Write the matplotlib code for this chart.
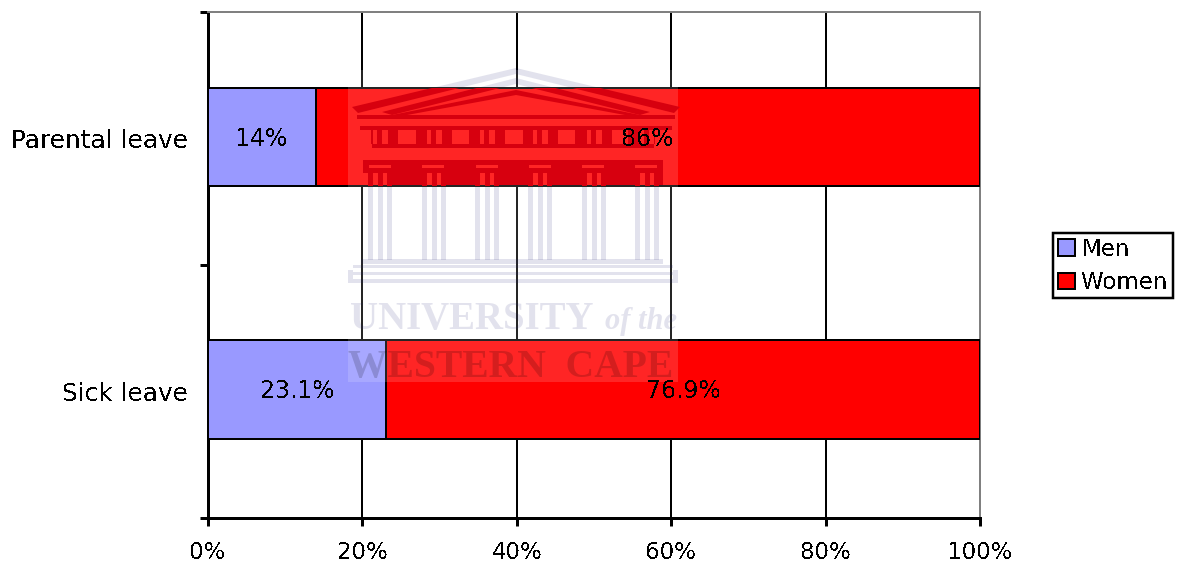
import matplotlib
matplotlib.use('Agg')
import matplotlib.pyplot as plt
from matplotlib.patches import Polygon
from matplotlib.transforms import Affine2D

categories = ['Sick leave', 'Parental leave']
men = [23.1, 14]
women = [76.9, 86]
men_labels = ['23.1%', '14%']
women_labels = ['76.9%', '86%']
x_ticks = [0, 20, 40, 60, 80, 100]
x_tick_labels = ['0%', '20%', '40%', '60%', '80%', '100%']

W, H = 1186, 564
px = 0.72  # one pixel in points at dpi 100

plt.rcParams['font.family'] = 'DejaVu Sans'
plt.rcParams['text.antialiased'] = False
fig = plt.figure(figsize=(W / 100, H / 100), dpi=100)
ax = fig.add_axes([208 / W, 1 - 518 / H, (980 - 208) / W, (518 - 12) / H])

bar_pos = [0.007, 1.006]
men_bars = ax.barh(bar_pos, men, height=0.39, color='#9999ff', edgecolor='black',
                   linewidth=2 * px, zorder=3, label='Men')
women_bars = ax.barh(bar_pos, women, left=men, height=0.39, color='#ff0000', edgecolor='black',
                     linewidth=2 * px, zorder=3, label='Women')

for i in range(len(categories)):
    ax.text(men[i] / 2, i, men_labels[i], ha='center', va='center', fontsize=17, zorder=6)
    ax.text(men[i] + women[i] / 2, i, women_labels[i], ha='center', va='center',
            fontsize=17, zorder=6)

ax.set_xlim(0, 100)
ax.set_ylim(-0.5, 1.5)
ax.set_xticks(x_ticks)
ax.set_xticklabels(x_tick_labels, fontsize=16.5)
ax.set_yticks([-0.5, 0.5, 1.5])
ax.set_yticklabels([])
ax.set_yticks([0, 1], minor=True)
ax.set_yticklabels(categories, minor=True, fontsize=17.8)
ax.tick_params(axis='y', which='minor', length=0, pad=14.5)
ax.tick_params(axis='both', which='major', length=8 * px, width=3 * px, color='black')
ax.tick_params(axis='x', pad=11)
ax.grid(True, axis='x', color='black', linewidth=2 * px, zorder=1)
ax.set_axisbelow(True)

ax.spines['left'].set_linewidth(3 * px)
ax.spines['bottom'].set_linewidth(3 * px)
ax.spines['top'].set_color('#808080')
ax.spines['right'].set_color('#808080')
ax.spines['top'].set_linewidth(2 * px)
ax.spines['right'].set_linewidth(2 * px)

leg = fig.legend(loc='upper left', bbox_to_anchor=(1053 / W, 1 - 233 / H), fontsize=16.5,
                 fancybox=False, framealpha=1, edgecolor='black', borderpad=0.2,
                 handlelength=0.75, handleheight=0.75, handletextpad=0.3,
                 labelspacing=0.45, borderaxespad=0)
leg.get_frame().set_linewidth(2.5 * px)

# watermark, placed in picture pixels (y going down)
pix = Affine2D().scale(1 / W, -1 / H).translate(0, 1) + fig.transFigure
ink = (0, 0, 0.39)
deep_red = '#d7000f'
serif = 'Liberation Serif'


def shape(verts):
    # pale on the white, dark red on the women bars
    ax.add_patch(Polygon(verts, transform=pix, facecolor=ink, alpha=0.13, linewidth=0,
                         zorder=2, clip_on=False))
    for bar in women_bars:
        p = Polygon(verts, transform=pix, facecolor=deep_red, linewidth=0, zorder=5)
        ax.add_patch(p)
        p.set_clip_path(bar)


def box(x0, y0, x1, y1):
    shape([(x0, y0), (x1, y0), (x1, y1), (x0, y1)])


ax.add_patch(plt.Rectangle((348, 70), 330, 312, transform=pix, facecolor='white', alpha=0.15,
                           linewidth=0, zorder=4, clip_on=False))

# roof
shape([(516, 68), (680, 107), (674, 113), (516, 74), (358, 113), (352, 107)])
shape([(516, 78), (650, 112), (640, 115), (516, 84), (392, 115), (382, 112)])
shape([(516, 90), (640, 115), (625, 115), (516, 95), (407, 115), (392, 115)])
box(357, 115, 675, 119)
box(360, 126, 672, 130)

# frieze
for x0 in [372, 426, 479, 532, 586, 639]:
    box(x0 - 1, 130, x0 + 1, 144)
    box(x0 + 5, 130, x0 + 10, 144)
    box(x0 + 16, 130, x0 + 26 if x0 < 639 else x0 + 15, 144)
for x0, x1 in [(416, 426), (469, 479), (523, 532), (575, 586), (628, 639)]:
    box(x0, 130, x1, 144)
box(372, 144, 654, 148)

# entablature, with the capitals left light
for y0, y1 in [(160, 165), (168, 173)]:
    box(363, y0, 663, y1)
for x0, x1 in [(363, 369), (391, 422), (444, 476), (498, 529), (551, 582), (604, 635), (657, 663)]:
    box(x0, 165, x1, 168)
    box(x0 + 5 if x0 == 363 else x0, 173, x1, 185)

# columns
for x0 in [368, 422, 475, 528, 582, 635]:
    for dx in [0, 10, 19]:
        box(x0 + dx, 173, x0 + dx + 5, 260)

# steps
box(361, 259, 663, 264)
box(353, 265, 673, 268)
box(353, 272, 673, 275)
box(348, 270, 353, 279)
box(673, 270, 678, 279)
box(348, 279, 678, 283)

ax.text(350, 320, 'UNIVERSITY', transform=pix, family=serif, weight='bold', fontsize=28,
        color=ink, alpha=0.13, va='center', antialiased=True, zorder=2)
ax.text(605, 321, 'of the', transform=pix, family=serif, style='italic', weight='bold',
        fontsize=22, color=ink, alpha=0.13, va='center', antialiased=True, zorder=2)
ax.text(348, 368, 'WESTERN  CAPE', transform=pix, family=serif, weight='bold', fontsize=28.5,
        color='black', alpha=0.17, va='center', antialiased=True, zorder=5)

fig.savefig('out.png', dpi=100)
